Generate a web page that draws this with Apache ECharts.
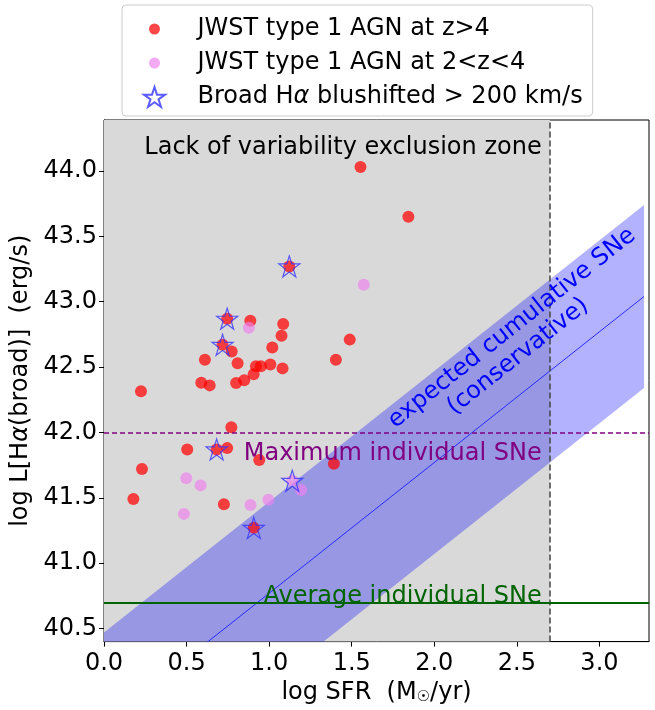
<!DOCTYPE html>
<html>
<head>
<meta charset="utf-8">
<script src="https://cdn.jsdelivr.net/npm/echarts@6/dist/echarts.min.js"></script>
<style>
html, body { margin: 0; padding: 0; background: #fff; }
#chart { width: 655px; height: 710px; }
</style>
</head>
<body>
<div id="chart"></div>
<script>
// JWST type 1 AGN at z>4
var redX = [1.553, 1.843, 1.122, 0.746, 0.886, 1.085, 1.075, 1.488, 0.718, 0.773, 1.019, 0.611, 1.404,
            0.809, 0.920, 0.950, 1.007, 1.081, 0.906, 0.589, 0.640, 0.800, 0.849, 0.224, 0.771, 0.504,
            0.682, 0.746, 0.940, 1.392, 0.230, 0.178, 0.726, 0.907];
var redY = [44.03, 43.65, 43.27, 42.87, 42.855, 42.83, 42.74, 42.71, 42.67, 42.62, 42.65, 42.556, 42.556,
            42.53, 42.506, 42.506, 42.52, 42.49, 42.445, 42.38, 42.36, 42.378, 42.40, 42.315, 42.04, 41.87,
            41.87, 41.88, 41.79, 41.76, 41.72, 41.49, 41.45, 41.27];
// JWST type 1 AGN at 2<z<4
var violetX = [0.877, 1.573, 0.498, 0.585, 0.887, 0.995, 1.194, 1.140, 0.484];
var violetY = [42.80, 43.13, 41.65, 41.595, 41.445, 41.485, 41.56, 41.63, 41.377];
// broad Halpha blueshifted
var starX = [1.122, 0.746, 0.718, 0.682, 0.907, 1.140];
var starY = [43.27, 42.87, 42.67, 41.87, 41.27, 41.63];

// expected cumulative SNe band
var bandX = [0, 3.27];
var bandLow = [39.07, 42.34];
var bandMid = [39.77, 43.04];
var bandHigh = [40.47, 43.74];

var exclusionEdge = 2.7;
var maxSNe = 42.0;
var avgSNe = 40.7;

var xTicks = [0, 0.5, 1.0, 1.5, 2.0, 2.5, 3.0];
var yTicks = [40.5, 41.0, 41.5, 42.0, 42.5, 43.0, 43.5, 44.0];

var nameRed = 'JWST type 1 AGN at z>4';
var nameViolet = 'JWST type 1 AGN at 2<z<4';
var nameStar = 'Broad Hα blushifted > 200 km/s';

var FONT = 'DejaVu Sans';
var FS = 24;
var starPath = 'path://M10,0L12.245,6.91L19.511,6.91L13.633,11.18L15.878,18.09L10,13.82L4.122,18.09L6.367,11.18L0.489,6.91L7.755,6.91Z';
var circleIcon = 'path://M0,0M20,20M10,4.5A5.5,5.5,0,1,1,9.99,4.5Z';

function pairs(xs, ys) {
    var out = [];
    for (var i = 0; i < xs.length; i++) out.push([xs[i], ys[i]]);
    return out;
}

// clip polygon to rect (Sutherland-Hodgman)
function clipPoly(pts, r) {
    var bounds = [['x', r.x, 1], ['x', r.x + r.width, -1], ['y', r.y, 1], ['y', r.y + r.height, -1]];
    for (var e = 0; e < 4; e++) {
        var k = bounds[e][0] === 'x' ? 0 : 1, v = bounds[e][1], s = bounds[e][2], out = [];
        for (var i = 0; i < pts.length; i++) {
            var a = pts[i], b = pts[(i + 1) % pts.length];
            var ina = (a[k] - v) * s >= 0, inb = (b[k] - v) * s >= 0;
            if (ina) out.push(a);
            if (ina !== inb) {
                var t = (v - a[k]) / (b[k] - a[k]);
                var p = [a[0] + t * (b[0] - a[0]), a[1] + t * (b[1] - a[1])];
                p[k] = v;
                out.push(p);
            }
        }
        pts = out;
    }
    return pts;
}

var myChart = echarts.init(document.getElementById('chart'));

var option = {
    animation: false,
    textStyle: { fontFamily: FONT },
    grid: {
        left: 104, right: 6, top: 120, bottom: 59,
        show: true, borderColor: '#000', borderWidth: 1, backgroundColor: 'transparent'
    },
    legend: {
        orient: 'vertical',
        left: 122, top: 5,
        padding: [12, 10, 7, 21],
        itemWidth: 40, itemHeight: 20, itemGap: 10,
        borderColor: '#cccccc', borderWidth: 1, borderRadius: 4,
        backgroundColor: '#fff',
        selectedMode: false,
        textStyle: {
            fontFamily: FONT, fontSize: FS, color: '#000', padding: [0, 0, 0, 18],
            rich: { i: { fontFamily: FONT, fontSize: FS, fontStyle: 'italic', color: '#000' } }
        },
        formatter: function (n) { return n.replace('α', '{i|α}'); },
        data: [
            { name: nameRed, icon: circleIcon },
            { name: nameViolet, icon: circleIcon },
            { name: nameStar, icon: starPath }
        ]
    },
    xAxis: {
        type: 'value', min: 0, max: 3.3,
        name: '{a|log SFR  (M}{s|☉}{a|/yr)}',
        nameLocation: 'middle', nameGap: 35,
        nameTextStyle: {
            fontFamily: FONT, fontSize: FS, color: '#000',
            rich: {
                a: { fontFamily: FONT, fontSize: FS, color: '#000' },
                s: { fontFamily: FONT, fontSize: 15, color: '#000', padding: [10, 0, 0, 0] }
            }
        },
        axisLine: { lineStyle: { color: '#000' } },
        axisTick: { show: true, length: 5, lineStyle: { color: '#000' }, customValues: xTicks },
        axisLabel: {
            fontFamily: FONT, fontSize: FS, color: '#000', margin: 10, customValues: xTicks,
            formatter: function (v) { return v.toFixed(1); }
        },
        splitLine: { show: false }
    },
    yAxis: {
        type: 'value', min: 40.4, max: 44.39,
        name: 'log L[H{i|α}(broad)]  (erg/s)',
        nameLocation: 'middle', nameGap: 54,
        nameTextStyle: {
            fontFamily: FONT, fontSize: FS, color: '#000',
            rich: { i: { fontFamily: FONT, fontSize: FS, fontStyle: 'italic', color: '#000' } }
        },
        axisLine: { show: true, lineStyle: { color: '#000' } },
        axisTick: { show: true, length: 5, lineStyle: { color: '#000' }, customValues: yTicks },
        axisLabel: {
            fontFamily: FONT, fontSize: FS, color: '#000', margin: 7, customValues: yTicks,
            formatter: function (v) { return v.toFixed(1); }
        },
        splitLine: { show: false }
    },
    series: [
        {
            // grey exclusion zone
            type: 'scatter', z: 0, silent: true, data: [],
            markArea: {
                silent: true,
                itemStyle: { color: '#d9d9d9' },
                data: [[{ xAxis: 0 }, { xAxis: exclusionEdge }]]
            }
        },
        {
            type: 'custom', z: 1, silent: true,
            data: [[bandX[0], bandMid[0]]],
            renderItem: function (params, api) {
                var pts = [];
                for (var i = 0; i < bandX.length; i++) pts.push(api.coord([bandX[i], bandHigh[i]]));
                for (var j = bandX.length - 1; j >= 0; j--) pts.push(api.coord([bandX[j], bandLow[j]]));
                pts = clipPoly(pts, params.coordSys);
                return { type: 'polygon', shape: { points: pts }, style: { fill: 'rgba(0,0,255,0.3)' } };
            }
        },
        {
            type: 'line', z: 2, silent: true, symbol: 'none',
            data: pairs(bandX, bandMid),
            lineStyle: { color: '#2a2aff', width: 1 },
            markLine: {
                silent: true, symbol: 'none', label: { show: false },
                data: [
                    { xAxis: exclusionEdge, lineStyle: { color: '#444', width: 1.5, type: [6, 3] } },
                    { yAxis: maxSNe, lineStyle: { color: '#800080', width: 1.5, type: [5, 3] } },
                    { yAxis: avgSNe, lineStyle: { color: '#006400', width: 2, type: 'solid' } }
                ]
            }
        },
        {
            name: nameRed, type: 'scatter', z: 4, symbol: 'circle', symbolSize: 12,
            itemStyle: { color: 'rgba(255,0,0,0.9)' },
            data: pairs(redX, redY)
        },
        {
            name: nameViolet, type: 'scatter', z: 4, symbol: 'circle', symbolSize: 12,
            itemStyle: { color: 'rgba(238,130,238,0.85)' },
            data: pairs(violetX, violetY)
        },
        {
            name: nameStar, type: 'scatter', z: 5, symbol: starPath, symbolSize: 21,
            itemStyle: { color: 'rgba(0,0,0,0)', borderColor: '#3333ff', borderWidth: 1.2 },
            data: pairs(starX, starY)
        }
    ]
};
myChart.setOption(option);

// annotations anchored in data coordinates
function px(x, y) { return myChart.convertToPixel({ gridIndex: 0 }, [x, y]); }
var pLack = px(2.65, 44.175);
var pMax = px(2.65, 41.835);
var pAvg = px(2.65, 40.74);
var pSne = px(2.52, 42.72);
var angle = Math.atan2(px(0, 41)[1] - px(1, 42)[1], px(1, 42)[0] - px(0, 41)[0]);
var textFont = FS + 'px "DejaVu Sans"';

myChart.setOption({
    graphic: [
        { type: 'text', x: pLack[0], y: pLack[1], z: 10,
          style: { text: 'Lack of variability exclusion zone', font: textFont, fill: '#000', align: 'right', verticalAlign: 'middle' } },
        { type: 'text', x: pMax[0], y: pMax[1], z: 10,
          style: { text: 'Maximum individual SNe', font: textFont, fill: '#800080', align: 'right', verticalAlign: 'middle' } },
        { type: 'text', x: pAvg[0], y: pAvg[1], z: 10,
          style: { text: 'Average individual SNe', font: textFont, fill: '#006400', align: 'right', verticalAlign: 'middle' } },
        { type: 'group', x: pSne[0], y: pSne[1], z: 10, rotation: angle,
          children: [
              { type: 'text', x: 0, y: -13, z: 10,
                style: { text: 'expected cumulative SNe', font: textFont, fill: '#0000ff', align: 'center', verticalAlign: 'middle' } },
              { type: 'text', x: -13, y: 13, z: 10,
                style: { text: '(conservative)', font: textFont, fill: '#0000ff', align: 'center', verticalAlign: 'middle' } }
          ] }
    ]
});
</script>
</body>
</html>
